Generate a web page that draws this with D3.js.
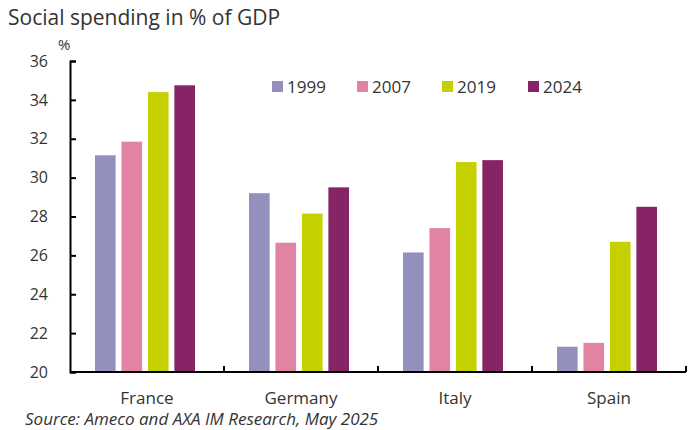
<!DOCTYPE html>
<html>
<head>
<meta charset="utf-8">
<script src="https://cdn.jsdelivr.net/npm/d3@7"></script>
<style>
  body{margin:0;background:#fff;}
  svg{display:block;}
  text{font-family:'Open Sans','Noto Sans',sans-serif;fill:#333;}
</style>
</head>
<body>
<div id="chart"></div>
<script>
// social spending, % of GDP
const countries=["France","Germany","Italy","Spain"];
const years=["1999","2007","2019","2024"];
const v1999=[31.15,29.2,26.15,21.3];
const v2007=[31.85,26.65,27.4,21.5];
const v2019=[34.4,28.15,30.8,26.7];
const v2024=[34.75,29.5,30.9,28.5];
const yTicks=[20,22,24,26,28,30,32,34,36];
const colors=["#9490bd","#e383a4","#c4d000","#862465"];

const series=[v1999,v2007,v2019,v2024];
const rows=countries.flatMap((c,i)=>years.map((y,j)=>({country:c,year:y,value:series[j][i]})));

const W=693,H=430;
const margin={top:61,right:7,bottom:58,left:70};
const iw=W-margin.left-margin.right, ih=H-margin.top-margin.bottom;

const svg=d3.select("#chart").append("svg").attr("width",W).attr("height",H);
const g=svg.append("g").attr("transform",`translate(${margin.left},${margin.top})`);

const x=d3.scaleBand().domain(countries).range([0,iw]);
const xi=d3.scaleBand().domain(years).range([25,x.bandwidth()-29]).paddingInner(0.22);
const y=d3.scaleLinear().domain([20,36]).range([ih,0]);

// bars
g.append("g").selectAll("rect").data(rows).join("rect")
  .attr("x",d=>x(d.country)+xi(d.year))
  .attr("y",d=>y(d.value))
  .attr("width",xi.bandwidth())
  .attr("height",d=>y(20)-y(d.value))
  .attr("fill",d=>colors[years.indexOf(d.year)]);

// y axis, ticks pointing inward
const ya=g.append("g")
  .call(d3.axisLeft(y).tickValues(yTicks).tickSize(-6).tickPadding(22));
ya.select(".domain").attr("stroke","#000").attr("stroke-width",2);
ya.selectAll(".tick line").attr("stroke","#000").attr("stroke-width",2);
ya.selectAll("text").style("font-size","16px").attr("fill","#333")
  .style("font-family","'Open Sans','Noto Sans',sans-serif");

// x axis, ticks between categories
const xa=g.append("g").attr("transform",`translate(0,${ih})`);
xa.append("line").attr("x1",0).attr("x2",iw).attr("stroke","#000").attr("stroke-width",2);
xa.selectAll("line.sep").data(countries).join("line").attr("class","sep")
  .attr("x1",d=>x(d)+x.bandwidth()).attr("x2",d=>x(d)+x.bandwidth())
  .attr("y1",0).attr("y2",-6).attr("stroke","#000").attr("stroke-width",2);
xa.selectAll("text").data(countries).join("text")
  .attr("x",d=>x(d)+x.bandwidth()/2).attr("y",32)
  .attr("text-anchor","middle").style("font-size","17px").text(d=>d);

// legend
const lg=svg.append("g");
const legX=[272,357,442,528];
years.forEach((yr,i)=>{
  lg.append("rect").attr("x",legX[i]).attr("y",81).attr("width",11).attr("height",11).attr("fill",colors[i]);
  lg.append("text").attr("x",legX[i]+15).attr("y",93).style("font-size","17px").text(yr);
});

// titles
svg.append("text").attr("x",8).attr("y",25).style("font-size","21px").text("Social spending in % of GDP");
svg.append("text").attr("x",58).attr("y",50).style("font-size","15px").text("%");
svg.append("text").attr("x",25).attr("y",425).style("font-size","17px").style("font-style","italic")
  .text("Source: Ameco and AXA IM Research, May 2025");
</script>
</body>
</html>
